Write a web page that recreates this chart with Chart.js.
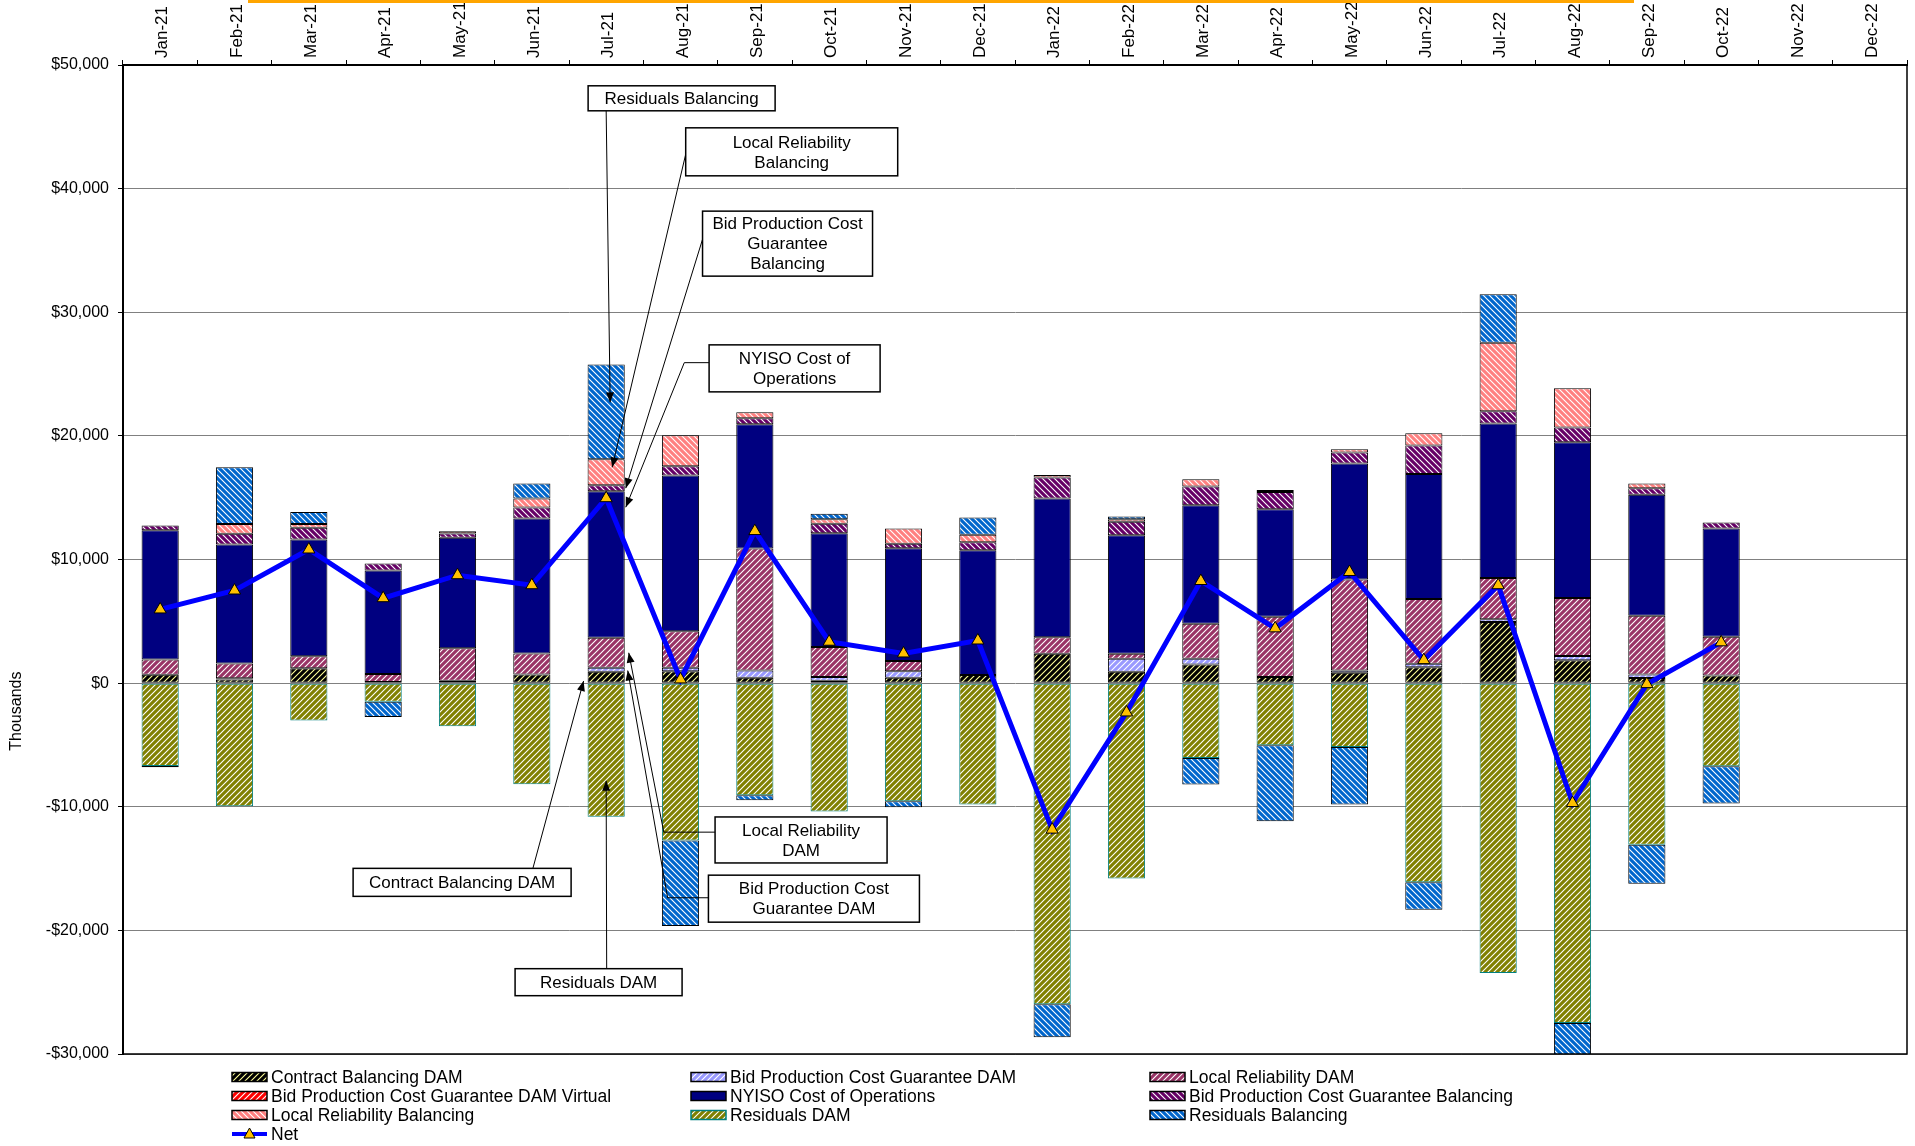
<!DOCTYPE html>
<html lang="en">
<head>
<meta charset="UTF-8">
<title>NYISO Cost Components</title>
<script src="https://cdn.jsdelivr.net/npm/chart.js"></script>
<style>
  html, body { margin: 0; padding: 0; background: #fff; }
  .wrap { position: relative; width: 1915px; height: 1146px; }
</style>
</head>
<body>
<div class="wrap"><canvas id="chart"></canvas></div>
<script>
// months on the top axis
const months = ['Jan-21','Feb-21','Mar-21','Apr-21','May-21','Jun-21','Jul-21','Aug-21','Sep-21','Oct-21','Nov-21','Dec-21',
                'Jan-22','Feb-22','Mar-22','Apr-22','May-22','Jun-22','Jul-22','Aug-22','Sep-22','Oct-22','Nov-22','Dec-22'];

// values in $ thousands
const contractBalDam = [670, 300, 1210, 100, 200, 700, 920, 970, 430, 200, 430, 650, 2380, 920, 1510, 490, 840, 1280, 4950, 1860, 410, 620, null, null];
const bpcgDam        = [0, 100, 0, 0, 0, 0, 320, 270, 590, 290, 540, 0, 0, 1050, 460, 0, 190, 290, 210, 330, 290, 0, null, null];
const localRelDam    = [1240, 1190, 970, 630, 2630, 1700, 2430, 2960, 9860, 2430, 810, 0, 1340, 410, 2830, 4880, 7360, 5240, 3340, 4700, 4750, 3140, null, null];
const bpcgDamVirtual = [0, 0, 0, 0, 0, 0, 0, 0, 0, 0, 0, 0, 0, 0, 0, 0, 0, 0, 0, 0, 0, 0, null, null];
const nyisoCost      = [10460, 9620, 9440, 8380, 8920, 10920, 11860, 12590, 10060, 9200, 9120, 10090, 11210, 9580, 9590, 8690, 9370, 10110, 12500, 12590, 9780, 8740, null, null];
const bpcgBal        = [380, 870, 940, 570, 350, 880, 480, 760, 490, 780, 380, 650, 1700, 1100, 1510, 1410, 890, 2310, 1000, 1200, 540, 500, null, null];
const localRelBal    = [0, 800, 320, 0, 190, 730, 2100, 2500, 490, 350, 1220, 620, 210, 190, 590, 160, 270, 990, 5530, 3170, 370, 0, null, null];
const residualsDam   = [-6710, -9950, -3020, -1510, -3480, -8190, -10810, -12740, -9070, -10390, -9550, -9820, -25970, -15800, -6050, -5020, -5160, -16100, -23440, -27490, -13080, -6730, null, null];
const residualsBal   = [-100, 4590, 970, -1240, 0, 1220, 7670, -6910, -400, 460, -490, 1380, -2670, 220, -2160, -6150, -4660, -2230, 3920, -6060, -3140, -3010, null, null];
const net            = [5960, 7490, 10810, 6870, 8730, 7920, 14960, 300, 12300, 3350, 2400, 3450, -11850, -2370, 8260, 4430, 8990, 1860, 7920, -9700, -80, 3300, null, null];

const FONT = 'Liberation Sans, Arial, sans-serif';
Chart.defaults.font.family = FONT;
Chart.defaults.color = '#000';

const canvas = document.getElementById('chart');
const mainCtx = canvas.getContext('2d');

// diagonal hatch fill like the old excel patterns
function hatch(bg, fg, dir) {
  const s = 6;
  const c = document.createElement('canvas');
  c.width = s; c.height = s;
  const g = c.getContext('2d');
  g.fillStyle = bg;
  g.fillRect(0, 0, s, s);
  g.strokeStyle = fg;
  g.lineWidth = 1.1;
  g.beginPath();
  if (dir === '/') {
    g.moveTo(0, s); g.lineTo(s, 0);
    g.moveTo(-1, 1); g.lineTo(1, -1);
    g.moveTo(s - 1, s + 1); g.lineTo(s + 1, s - 1);
  } else {
    g.moveTo(0, 0); g.lineTo(s, s);
    g.moveTo(-1, s - 1); g.lineTo(1, s + 1);
    g.moveTo(s - 1, -1); g.lineTo(s + 1, 1);
  }
  g.stroke();
  return mainCtx.createPattern(c, 'repeat');
}

function barSet(label, data, fill, border) {
  return {
    type: 'bar', label: label, data: data,
    backgroundColor: fill, borderColor: border || '#000', borderWidth: 1,
    borderSkipped: false, barPercentage: 0.5, categoryPercentage: 1.0, order: 1
  };
}

const datasets = [
  barSet('Contract Balancing DAM', contractBalDam, hatch('#000000', '#FFFF99', '/')),
  barSet('Bid Production Cost Guarantee DAM', bpcgDam, hatch('#9999FF', '#FFFFFF', '/')),
  barSet('Local Reliability DAM', localRelDam, hatch('#993366', '#FFFFFF', '/')),
  barSet('Bid Production Cost Guarantee DAM Virtual', bpcgDamVirtual, hatch('#FF0000', '#FFFFFF', '/')),
  barSet('NYISO Cost of Operations', nyisoCost, '#000080'),
  barSet('Bid Production Cost Guarantee Balancing', bpcgBal, hatch('#660066', '#FFFFFF', '\\')),
  barSet('Local Reliability Balancing', localRelBal, hatch('#FF8080', '#FFFFFF', '\\')),
  barSet('Residuals DAM', residualsDam, hatch('#808000', '#FFFFFF', '/'), '#008080'),
  barSet('Residuals Balancing', residualsBal, hatch('#0066CC', '#FFFFFF', '\\')),
  {
    type: 'line', label: 'Net', data: net, stack: 'net', order: -1,
    borderColor: '#0000FF', borderWidth: 5, tension: 0, fill: false,
    pointStyle: 'triangle', pointRadius: 7, pointBackgroundColor: '#FFC000',
    pointBorderColor: '#000', pointBorderWidth: 1
  }
];

// callout boxes pointing at the Jul-21 bar (box centre in category index / value units)
const calloutMonth = 6;
const callouts = [
  { lines: ['Residuals Balancing'], ds: 8, box: [7.015, 47306, 187, 25], from: [6.0, 46300], elbow: null, side: 0, frac: 0.6, dx: 4 },
  { lines: ['Local Reliability', 'Balancing'], ds: 6, box: [8.496, 42977, 212, 48], from: [7.091, 43317], elbow: null, side: 0, frac: 0.69, dx: 6 },
  { lines: ['Bid Production Cost', 'Guarantee', 'Balancing'], ds: 5, box: [8.44, 35550, 170, 65], from: [7.31, 36165], elbow: null, side: 1, frac: 0.5, dx: 1 },
  { lines: ['NYISO Cost of', 'Operations'], ds: 4, box: [8.535, 25461, 171, 47], from: [7.386, 25922], elbow: [7.051, 25922], side: 1, frac: 0.89, dx: 1 },
  { lines: ['Local Reliability', 'DAM'], ds: 2, box: [8.622, -12686, 172, 46], from: [7.469, -12055], elbow: [6.775, -12055], side: 1, frac: 0.5, dx: 4 },
  { lines: ['Bid Production Cost', 'Guarantee DAM'], ds: 1, box: [8.795, -17435, 211, 47], from: [7.379, -17362], elbow: [6.827, -17362], side: 1, frac: 0.3, dx: 3 },
  { lines: ['Contract Balancing DAM'], ds: 0, box: [4.062, -16116, 218, 28], from: [5.015, -14968], elbow: null, side: -1, frac: 0.15, dx: -4 },
  { lines: ['Residuals DAM'], ds: 7, box: [5.898, -24191, 167, 27], from: [6.007, -23107], elbow: null, side: 0, frac: 0.73, dx: 0 }
];

function arrowHead(ctx, x1, y1, x2, y2) {
  const a = Math.atan2(y2 - y1, x2 - x1);
  const len = 10, hw = 4;
  ctx.beginPath();
  ctx.moveTo(x2, y2);
  ctx.lineTo(x2 - len * Math.cos(a) + hw * Math.sin(a), y2 - len * Math.sin(a) - hw * Math.cos(a));
  ctx.lineTo(x2 - len * Math.cos(a) - hw * Math.sin(a), y2 - len * Math.sin(a) + hw * Math.cos(a));
  ctx.closePath();
  ctx.fill();
}

const calloutPlugin = {
  id: 'callouts',
  afterDatasetsDraw(chart) {
    const ctx = chart.ctx;
    const sx = chart.scales.x, sy = chart.scales.y;
    const px = p => [sx.getPixelForValue(p[0]), sy.getPixelForValue(p[1])];
    ctx.save();
    ctx.strokeStyle = '#000';
    ctx.fillStyle = '#000';
    ctx.lineWidth = 1;
    callouts.forEach(c => {
      const el = chart.getDatasetMeta(c.ds).data[calloutMonth];
      const tx = el.x + c.side * el.width / 2 + c.dx;
      const ty = el.base + (el.y - el.base) * c.frac;
      const pts = [px(c.from)];
      if (c.elbow) pts.push(px(c.elbow));
      pts.push([tx, ty]);
      ctx.beginPath();
      ctx.moveTo(pts[0][0], pts[0][1]);
      for (let i = 1; i < pts.length; i++) ctx.lineTo(pts[i][0], pts[i][1]);
      ctx.stroke();
      const p1 = pts[pts.length - 2];
      arrowHead(ctx, p1[0], p1[1], tx, ty);
    });
    ctx.font = '17px ' + FONT;
    ctx.textAlign = 'center';
    ctx.textBaseline = 'middle';
    callouts.forEach(c => {
      const [cx, cy] = px(c.box);
      const w = c.box[2], h = c.box[3];
      ctx.fillStyle = '#fff';
      ctx.fillRect(cx - w / 2, cy - h / 2, w, h);
      ctx.lineWidth = 1.5;
      ctx.strokeRect(cx - w / 2, cy - h / 2, w, h);
      ctx.fillStyle = '#000';
      const lh = 20;
      c.lines.forEach((t, i) => {
        ctx.fillText(t, cx, cy + (i - (c.lines.length - 1) / 2) * lh + 1);
      });
    });
    ctx.restore();
  }
};

// frame, legend, y title
const framePlugin = {
  id: 'frame',
  afterDraw(chart) {
    const ctx = chart.ctx;
    const a = chart.chartArea;
    ctx.save();
    ctx.strokeStyle = '#000';
    ctx.lineWidth = 1.5;
    ctx.beginPath();
    ctx.moveTo(a.left, a.bottom);
    ctx.lineTo(a.right, a.bottom);
    ctx.lineTo(a.right, a.top);
    ctx.stroke();

    // orange strip along the top edge
    ctx.fillStyle = '#FFA500';
    ctx.fillRect(248, 0, 1386, 3);

    // axis title
    ctx.font = '16px ' + FONT;
    ctx.fillStyle = '#000';
    ctx.textAlign = 'center';
    ctx.textBaseline = 'middle';
    ctx.translate(17, chart.scales.y.getPixelForValue(0) + 28);
    ctx.rotate(-Math.PI / 2);
    ctx.fillText('Thousands', 0, 0);
    ctx.restore();

    // legend, three columns filled row by row
    const colX = [232, 691, 1150];
    const rowY0 = 1077, rowH = 19;
    ctx.save();
    ctx.font = '17.5px ' + FONT;
    ctx.textBaseline = 'middle';
    ctx.textAlign = 'left';
    chart.data.datasets.forEach((ds, i) => {
      const x = colX[i % 3];
      const y = rowY0 + Math.floor(i / 3) * rowH;
      if (ds.type === 'line') {
        ctx.strokeStyle = ds.borderColor;
        ctx.lineWidth = 4;
        ctx.beginPath();
        ctx.moveTo(x, y); ctx.lineTo(x + 35, y);
        ctx.stroke();
        ctx.fillStyle = ds.pointBackgroundColor;
        ctx.strokeStyle = '#000';
        ctx.lineWidth = 1;
        ctx.beginPath();
        ctx.moveTo(x + 17.5, y - 6);
        ctx.lineTo(x + 23, y + 4);
        ctx.lineTo(x + 12, y + 4);
        ctx.closePath();
        ctx.fill(); ctx.stroke();
      } else {
        ctx.fillStyle = ds.backgroundColor;
        ctx.fillRect(x, y - 4.5, 35, 9);
        ctx.strokeStyle = ds.borderColor;
        ctx.lineWidth = 1.5;
        ctx.strokeRect(x, y - 4.5, 35, 9);
      }
      ctx.fillStyle = '#000';
      ctx.fillText(ds.label, x + 39, y + 1);
    });
    ctx.restore();
  }
};

new Chart(canvas, {
  data: { labels: months, datasets: datasets },
  options: {
    responsive: true,
    maintainAspectRatio: false,
    animation: false,
    layout: { padding: { top: 0, left: 0, right: 2, bottom: 92 } },
    plugins: { legend: { display: false }, tooltip: { enabled: false } },
    scales: {
      x: {
        position: 'top',
        stacked: true,
        offset: true,
        afterFit: s => { s.height = 65; },
        grid: { drawOnChartArea: false, drawTicks: true, tickLength: 5, tickColor: '#000', offset: true },
        border: { display: true, color: '#000', width: 2 },
        ticks: { autoSkip: false, minRotation: 90, maxRotation: 90, padding: 2, labelOffset: 23, font: { size: 17 } }
      },
      y: {
        stacked: true,
        min: -30000, max: 50000,
        afterFit: s => { s.width = 123; },
        grid: { color: '#808080', lineWidth: 1, tickLength: 5, tickColor: '#000' },
        border: { display: true, color: '#000', width: 2 },
        ticks: {
          stepSize: 10000, padding: 9, font: { size: 16 },
          callback: v => (v < 0 ? '-$' : '$') + Math.abs(v).toLocaleString('en-US')
        }
      }
    }
  },
  plugins: [calloutPlugin, framePlugin]
});
</script>
</body>
</html>
